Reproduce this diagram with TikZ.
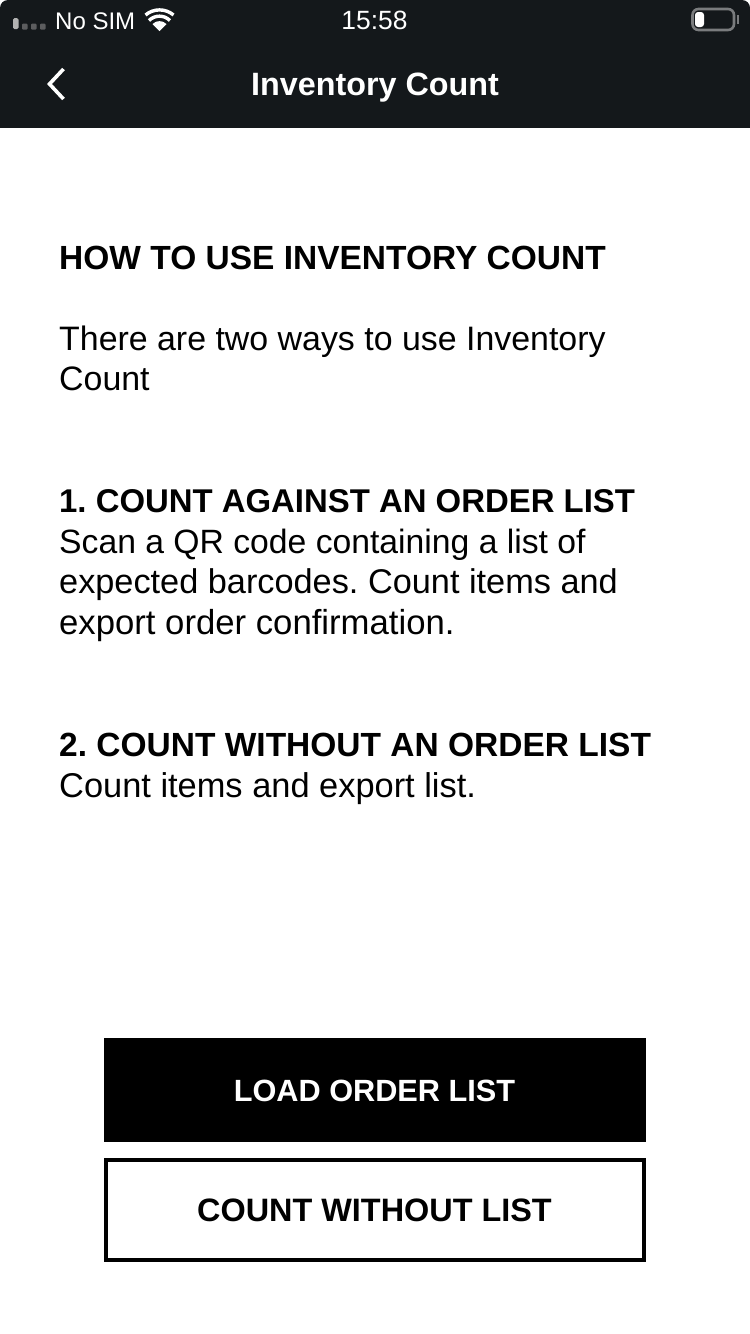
\documentclass[tikz,border=0pt]{standalone}
\usepackage{fontspec}
\setmainfont{Liberation Sans}
\frenchspacing
\definecolor{headerdark}{HTML}{14181B}
\definecolor{statusgrey}{HTML}{7A7C7E}
\tikzset{
  headline/.style={anchor=base west,inner sep=0pt,font=\fontsize{#1}{33}\selectfont\bfseries,text=black},
  headline/.default=33.5,
  bodyline/.style={anchor=base west,inner sep=0pt,font=\fontsize{#1}{33}\selectfont,text=black},
  bodyline/.default=34.2,
  statustext/.style={anchor=base,inner sep=0pt,font=\fontsize{#1}{24}\selectfont,text=white},
  statustext/.default=24,
  buttontext/.style={anchor=base,inner sep=0pt,font=\fontsize{#1}{32}\selectfont\bfseries},
}
\begin{document}
\begin{tikzpicture}[x=1pt,y=-1pt]
\useasboundingbox (0,0) rectangle (750,1334);
% page and header bar
\fill[white] (0,0) rectangle (750,1334);
\fill[headerdark,rounded corners=8pt] (0,0) rectangle (750,60);
\fill[headerdark] (0,30) rectangle (750,128);
% status bar
\fill[white!70!black,rounded corners=1.5pt] (13,18) rectangle (18.5,29);
\foreach \x in {22,31,40}
   \fill[statusgrey!75!black,rounded corners=1pt] (\x,23.5) rectangle (\x+5.5,29.5);
\node[statustext,anchor=base west] (nosim) at (55,29) {No SIM};
\node[statustext=26.4] (clock) at (374.5,29) {15:58};
% wifi
\fill[white] (159.5,31) -- (152.5,24) arc[start angle=-135,end angle=-45,radius=9.9] -- cycle;
\draw[white,line width=3.4pt] (149,20.5) arc[start angle=-135,end angle=-45,radius=14.8];
\draw[white,line width=3.4pt] (145.5,15) arc[start angle=-130,end angle=-50,radius=21.8];
% battery
\draw[statusgrey,line width=2.6pt,rounded corners=6pt] (692.5,9) rectangle (734,30);
\fill[white,rounded corners=3pt] (695,12) rectangle (704,27);
\fill[statusgrey] (737,15) rectangle (739,24);
% back arrow and title
\draw[white,line width=3.6pt] (63.5,69) -- (49.5,84) -- (63.5,99);
\node[anchor=base,inner sep=0pt,font=\fontsize{32.3}{32}\selectfont\bfseries,text=white] (title) at (375,95) {Inventory Count};
% instructions
\node[headline] (howto) at (59,269) {HOW TO USE INVENTORY COUNT};
\node[bodyline=33.9] (intro1) at (59,350) {There are two ways to use Inventory};
\node[bodyline=33.9] (intro2) at (59,390) {Count};
\node[headline=32.9] (first) at (59,512) {1. COUNT AGAINST AN ORDER LIST};
\node[bodyline=33.7] (first1) at (59,553) {Scan a QR code containing a list of};
\node[bodyline=34.3] (first2) at (59,593) {expected barcodes. Count items and};
\node[bodyline=34.7] (first3) at (59,634) {export order confirmation.};
\node[headline] (second) at (59,756) {2. COUNT WITHOUT AN ORDER LIST};
\node[bodyline=34.4] (second1) at (59,797) {Count items and export list.};
% buttons
\fill[black] (104,1038) rectangle (646,1142);
\node[buttontext=30.7,text=white] (load) at (374.5,1101) {LOAD ORDER LIST};
\draw[black,line width=4pt] (106,1160) rectangle (644,1260);
\node[buttontext=32.4,text=black] (count) at (374.5,1221) {COUNT WITHOUT LIST};
\end{tikzpicture}
\end{document}
